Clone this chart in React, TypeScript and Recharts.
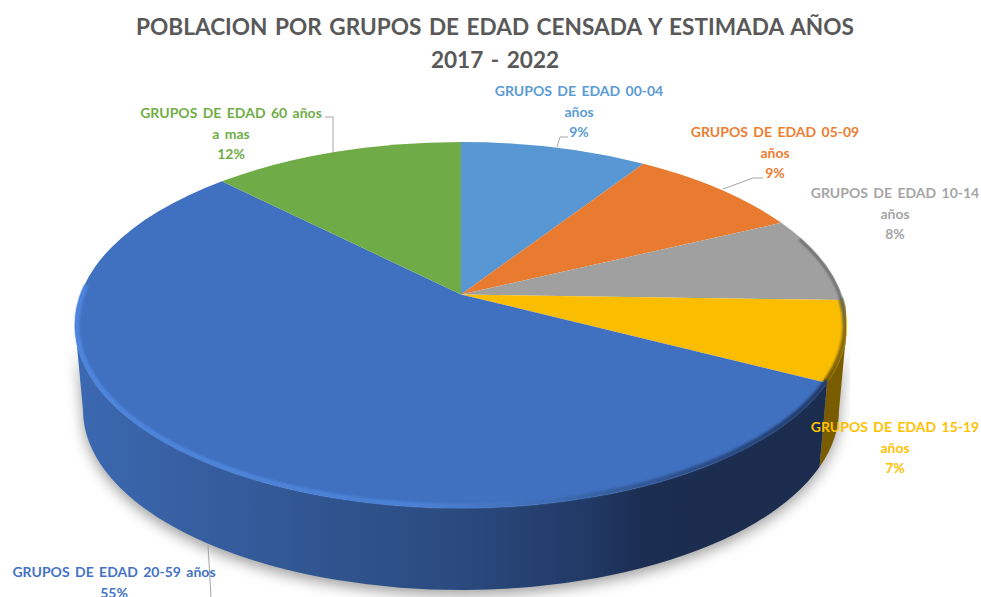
import { Pie, PieChart } from "recharts";

const groups = [
  "GRUPOS DE EDAD 00-04 años",
  "GRUPOS DE EDAD 05-09 años",
  "GRUPOS DE EDAD 10-14 años",
  "GRUPOS DE EDAD 15-19 años",
  "GRUPOS DE EDAD 20-59 años",
  "GRUPOS DE EDAD 60 años a mas",
];
const shares = [9.2, 8.7, 7.6, 7.1, 55.0, 12.4];
const labelLines = [
  ["GRUPOS DE EDAD 00-04", "años"],
  ["GRUPOS DE EDAD 05-09", "años"],
  ["GRUPOS DE EDAD 10-14", "años"],
  ["GRUPOS DE EDAD 15-19", "años"],
  ["GRUPOS DE EDAD 20-59 años"],
  ["GRUPOS DE EDAD 60 años", "a mas"],
];
const titleLines = ["POBLACION POR GRUPOS DE EDAD CENSADA Y ESTIMADA AÑOS", "2017 - 2022"];

const colors = ["#5b9bd5", "#ed7d31", "#a5a5a5", "#ffc000", "#4472c4", "#70ad47"];
const faceColors = ["#5897d3", "#e97b30", "#a0a0a0", "#fbbd00", "#4070c0", "#6fab46"];
const wallFills = ["#2e5f8c", "#9c4f1c", "#666", "#7a5c00", "url(#wallBlue)", "#456d2a"];
const rimFills = ["none", "none", "#5d5d5d", "url(#rimYellow)", "url(#rimBlue)", "none"];

// text centre and first baseline of each label, then its leader line
const labelAnchors = [
  { x: 579, y: 96, leader: "M557 147 L560 137 L568 137" },
  { x: 775, y: 137, leader: "M723 189 L753 178 L763 178" },
  { x: 895, y: 198, leader: "" },
  { x: 895, y: 432, leader: "" },
  { x: 114, y: 577, leader: "M208 545 L211 597" },
  { x: 231, y: 118, leader: "M333 153 L333 117 L325 117" },
];

const W = 981;
const H = 597;
const CX = 461;
const CY = 325;
const RX = 386;
const RY = 183;
const BOTTOM_RX = 378;
const BOTTOM_RY = 180;
const BOTTOM_CY = 410;
// perspective: how far slice angles get squeezed towards the viewer
const PERSPECTIVE = 0.845;
const APEX_Y = CY - (RY * (1 - PERSPECTIVE ** 2)) / (1 + PERSPECTIVE ** 2);

const LABEL_FONT = "Lato, 'Open Sans', sans-serif";

// clockwise degrees from the top of the circle -> ellipse parameter
function toEllipse(recAngle: number): number {
  const a = 90 - recAngle;
  const r = (a / 2) * (Math.PI / 180);
  let t = 2 * Math.atan(PERSPECTIVE * Math.tan(r)) * (180 / Math.PI);
  if (a > 180 && t < 0) t += 360;
  return t;
}

function pt(t: number, cy = CY, rx = RX, ry = RY) {
  const r = (t * Math.PI) / 180;
  return `${(CX + rx * Math.sin(r)).toFixed(2)} ${(cy - ry * Math.cos(r)).toFixed(2)}`;
}

function TopFace(props: any) {
  const i = groups.indexOf(props.name);
  const t1 = toEllipse(props.startAngle);
  const t2 = toEllipse(props.endAngle);
  const large = t2 - t1 > 180 ? 1 : 0;
  const d = `M${CX} ${APEX_Y} L${pt(t1)} A${RX} ${RY} 0 ${large} 1 ${pt(t2)} Z`;
  // the bevel only shows along the front of the pie
  const rimStart = Math.max(t1, 62);
  const rimEnd = Math.min(t2, 282);
  const rimLarge = rimEnd - rimStart > 180 ? 1 : 0;
  const rim = `M${pt(rimStart, CY, RX - 2, RY - 2)} A${RX - 2} ${RY - 2} 0 ${rimLarge} 1 ${pt(rimEnd, CY, RX - 2, RY - 2)}`;
  return (
    <g>
      <path d={d} fill={faceColors[i]} />
      {rimFills[i] !== "none" && (
        <path d={rim} fill="none" stroke={rimFills[i]} strokeWidth={i === 2 ? 2 : 5} strokeLinecap="round" filter="url(#soft)" clipPath="url(#faceClip)" />
      )}
    </g>
  );
}

function wallPath(props: any): string | null {
  const t1 = Math.max(toEllipse(props.startAngle), 90);
  const t2 = Math.min(toEllipse(props.endAngle), 270);
  if (t2 <= t1) return null;
  const large = t2 - t1 > 180 ? 1 : 0;
  return (
    `M${pt(t1)} A${RX} ${RY} 0 ${large} 1 ${pt(t2)} ` +
    `L${pt(t2, BOTTOM_CY, BOTTOM_RX, BOTTOM_RY)} ` +
    `A${BOTTOM_RX} ${BOTTOM_RY} 0 ${large} 0 ${pt(t1, BOTTOM_CY, BOTTOM_RX, BOTTOM_RY)} Z`
  );
}

function Wall(props: any) {
  const d = wallPath(props);
  if (!d) return <g />;
  return <path d={d} fill={wallFills[groups.indexOf(props.name)]} />;
}

function WallShadow(props: any) {
  const d = wallPath(props);
  if (!d) return <g />;
  return <path d={d} fill="#000" fillOpacity={0.38} transform="translate(0 5)" filter="url(#shadow)" />;
}

function SliceLabel(props: any) {
  const i = groups.indexOf(props.name);
  const { x, y, leader } = labelAnchors[i];
  const lines = [...labelLines[i], `${Math.round(props.percent * 100)}%`];
  return (
    <g>
      {leader && <path d={leader} fill="none" stroke="#a6a6a6" strokeWidth={1} />}
      <text x={x} y={y} textAnchor="middle" fontFamily={LABEL_FONT} fontWeight={700} fontSize={14} wordSpacing={2} fill={colors[i]}>
        {lines.map((line, n) => (
          <tspan key={n} x={x} dy={n === 0 ? 0 : 20.5}>
            {line}
          </tspan>
        ))}
      </text>
    </g>
  );
}

export default function App() {
  const data = groups.map((name, i) => ({ name, value: shares[i] }));
  const pieProps = {
    data,
    dataKey: "value",
    nameKey: "name",
    cx: CX,
    cy: CY,
    outerRadius: RX,
    startAngle: 90,
    endAngle: -270,
    stroke: "none",
    labelLine: false,
    isAnimationActive: false,
  };

  return (
    <div style={{ position: "absolute", left: 0, top: 0, width: W, height: H, background: "#fff" }}>
      <PieChart width={W} height={H} margin={{ top: 0, right: 0, bottom: 0, left: 0 }}>
        <defs>
          <linearGradient id="wallBlue" gradientUnits="userSpaceOnUse" x1={83} y1={0} x2={822} y2={0}>
            <stop offset="0" stopColor="#3b68b0" />
            <stop offset="0.33" stopColor="#30548f" />
            <stop offset="0.5" stopColor="#2b4b80" />
            <stop offset="0.68" stopColor="#213a66" />
            <stop offset="0.76" stopColor="#1b2d50" />
            <stop offset="1" stopColor="#1b2c4e" />
          </linearGradient>
          <linearGradient id="rimBlue" gradientUnits="userSpaceOnUse" x1={75} y1={0} x2={826} y2={0}>
            <stop offset="0" stopColor="#4f86de" />
            <stop offset="0.45" stopColor="#4c82d6" />
            <stop offset="0.62" stopColor="#3f6eb8" />
            <stop offset="0.78" stopColor="#2f5390" />
            <stop offset="1" stopColor="#203a68" />
          </linearGradient>
          <linearGradient id="rimYellow" gradientUnits="userSpaceOnUse" x1={0} y1={300} x2={0} y2={381}>
            <stop offset="0" stopColor="#6a6a55" />
            <stop offset="0.5" stopColor="#8a6d10" />
            <stop offset="1" stopColor="#7a5c00" />
          </linearGradient>
          <filter id="soft" x="-5%" y="-5%" width="110%" height="110%">
            <feGaussianBlur stdDeviation="1.2" />
          </filter>
          <filter id="shadow" x="-10%" y="-20%" width="120%" height="140%">
            <feGaussianBlur stdDeviation="7" />
          </filter>
          <clipPath id="faceClip">
            <ellipse cx={CX} cy={CY} rx={RX + 1} ry={RY + 1} />
          </clipPath>
        </defs>
        <Pie {...pieProps} shape={WallShadow} />
        <Pie {...pieProps} shape={Wall} />
        <Pie {...pieProps} shape={TopFace} label={SliceLabel} />
        <text textAnchor="middle" fontFamily={LABEL_FONT} fontWeight={700} fontSize={22.6} wordSpacing={2} fill="#595959">
          <tspan x={495} y={35}>{titleLines[0]}</tspan>
          <tspan x={495} y={68}>{titleLines[1]}</tspan>
        </text>
      </PieChart>
    </div>
  );
}
